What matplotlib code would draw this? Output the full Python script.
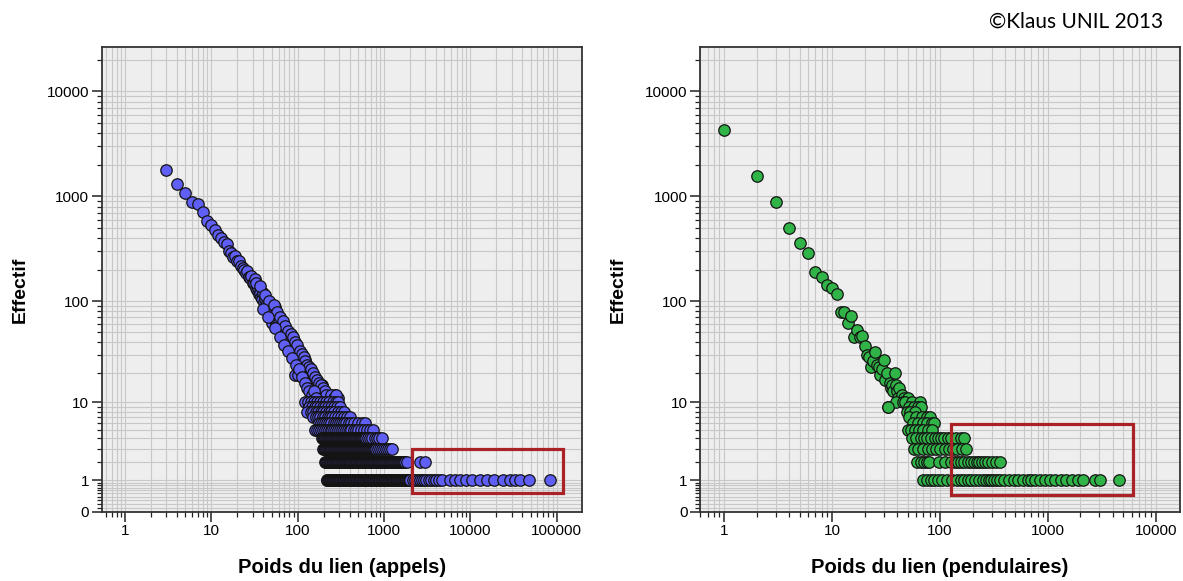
import numpy as np
import matplotlib
matplotlib.use("Agg")
import matplotlib.pyplot as plt
from matplotlib.patches import Rectangle
from matplotlib.ticker import FixedLocator, LogLocator, NullFormatter

plt.rcParams['font.family'] = ['Liberation Sans', 'DejaVu Sans']

# ---- appels (calls): upper part, one point per link weight
calls_top_w = [3, 4, 5, 6, 7, 8, 9, 10, 11, 12, 13, 14, 15, 16, 17, 18, 19, 20,
               21, 22, 23, 24, 25, 26, 27, 28, 29, 30, 31, 32, 33, 34, 35, 36, 37, 38, 39, 40,
               41, 42, 43, 44, 45, 46, 47, 48, 49, 50, 51, 52, 53, 54, 55, 56, 57, 58, 59, 60,
               61, 62, 63, 64, 65, 66, 67, 68, 69, 70, 71, 72, 73, 74, 75, 76, 77, 78, 79, 80,
               81, 82, 83, 84, 85, 86, 87, 88, 89, 90, 91, 92, 93, 94, 95, 96, 97, 98, 99, 100,
               102, 104, 106, 108, 110, 112, 114, 116, 118, 120, 122, 124, 126, 128, 130, 132,
               134, 136, 138, 140, 142, 145, 148, 150, 152, 155, 158, 160, 163, 166, 170, 173,
               176, 180, 185, 190, 195, 200, 210, 220, 237, 250, 270, 297]
calls_top_n = [1800, 1300, 1070, 890, 850, 710, 590, 540, 480, 430, 400, 370, 350, 300, 290, 265, 270, 240,
               243, 215, 210, 200, 185, 194, 170, 165, 174, 150, 150, 162, 135, 128, 135, 118, 121, 110, 106, 121,
               98, 104, 90, 95, 90, 84, 80, 86, 72, 62, 78, 84, 70, 66, 87, 64, 60, 62, 58, 63,
               55, 58, 52, 50, 65, 48, 52, 52, 45, 47, 50, 42, 44, 46, 40, 38, 44, 41, 36, 39,
               35, 42, 37, 33, 35, 31, 36, 30, 43, 32, 29, 34, 19, 30, 26, 33, 34, 27, 25, 29,
               19, 26, 24, 22, 27, 20, 23, 19, 25, 18, 27, 21, 17, 16, 22, 15,
               19, 17, 14, 20, 13, 16, 15, 12, 12, 17, 14, 11, 13, 15, 12, 11,
               14, 12, 11, 15, 11, 13, 12, 11, 12, 11, 12, 11]

# ---- appels: second layer of the thick band (30 < weight < 300)
calls_band_w = [33, 37, 42, 47, 53, 58, 63, 68, 72, 77, 83, 88, 94, 99, 105, 111, 117, 123,
                129, 135, 142, 150, 158, 166, 175, 185, 195, 205, 215, 240, 260, 280,
                40, 45, 55, 62, 70, 78, 86, 95, 103, 112, 120, 128, 136, 145, 155, 165]
calls_band_n = [150, 140, 115, 100, 92, 78, 70, 64, 57, 52, 48, 45, 40, 38, 33, 31, 29, 26,
                24, 23, 22, 20, 18, 17, 16, 15, 14, 13, 12, 12, 11, 12,
                85, 70, 55, 45, 38, 33, 28, 24, 22, 18, 16, 14, 13, 12, 13, 11]

# ---- appels: weights that share a small count
calls_n10 = [120, 131, 143, 155, 167, 180, 195, 212, 230, 255, 280, 297]
calls_n9 = [135, 146, 157, 169, 181, 194, 208, 224, 242, 262, 285, 310]
calls_n8 = [127, 143, 152, 162, 173, 185, 198, 212, 228, 245, 265, 290, 315, 345]
calls_n7 = [150, 162, 172, 183, 195, 208, 222, 237, 253, 270, 290, 315, 340, 370, 405]
calls_n6 = [175, 185, 195, 207, 219, 232, 246, 260, 275, 291, 308, 326, 345, 365, 390, 420,
            455, 500, 550, 605]
calls_n5 = [160, 168, 177, 186, 196, 206, 217, 228, 240, 252, 265, 279, 294, 309, 325, 342,
            360, 380, 400, 420, 445, 475, 505, 540, 590, 640, 690, 748]
calls_n4 = [190, 194, 198, 202, 206, 210, 215, 220, 224, 229, 233, 238, 243, 248, 253, 259,
            264, 270, 275, 281, 287, 293, 299, 305, 311, 318, 324, 331, 338, 345, 352, 360,
            367, 375, 382, 390, 398, 407, 415, 424, 432, 441, 450, 460, 470, 480, 490, 500,
            510, 522, 535, 548, 560, 575, 590, 605, 620, 650, 690, 730, 780, 830, 880, 940]
calls_n3 = [197, 201, 206, 210, 215, 220, 225, 230, 235, 240, 245, 250, 256, 262, 267, 273,
            279, 285, 291, 297, 304, 310, 317, 324, 331, 338, 346, 353, 361, 369, 377, 385,
            393, 402, 410, 419, 428, 437, 447, 457, 467, 477, 487, 497, 508, 519, 530, 541,
            553, 565, 577, 590, 602, 615, 628, 642, 655, 670, 684, 699, 714, 730, 745, 761,
            777, 811, 846, 890, 940, 990, 1050, 1110, 1170, 1240]
calls_n2 = [207, 211, 215, 219, 223, 227, 231, 236, 240, 245, 249, 254, 258, 263, 268, 273,
            278, 283, 288, 294, 299, 305, 310, 316, 322, 328, 334, 340, 346, 352, 359, 366,
            372, 379, 386, 394, 401, 408, 416, 424, 431, 439, 447, 456, 464, 472, 481, 490,
            499, 508, 518, 527, 537, 547, 557, 568, 578, 589, 600, 611, 622, 634, 645, 657,
            669, 682, 694, 707, 720, 733, 747, 761, 775, 790, 804, 819, 834, 850, 865, 881,
            897, 918, 940, 962, 985, 1008, 1030, 1055, 1080, 1105, 1130, 1160, 1190, 1220,
            1250, 1280, 1310, 1345, 1380, 1415, 1450, 1490, 1530, 1570, 1610, 1650, 1690,
            1750, 1850, 2630, 2990]
calls_n1 = [217, 220, 224, 227, 231, 234, 238, 242, 246, 250, 254, 258, 262, 266, 270, 275,
            279, 284, 288, 293, 297, 302, 306, 311, 316, 321, 326, 331, 337, 342, 348, 353,
            359, 364, 370, 376, 382, 388, 394, 400, 407, 413, 420, 426, 433, 440, 447, 454,
            461, 468, 476, 483, 491, 499, 507, 515, 523, 531, 540, 548, 557, 566, 575, 584,
            593, 602, 612, 622, 632, 642, 652, 662, 673, 683, 694, 705, 716, 727, 739, 751,
            763, 775, 787, 799, 812, 825, 838, 851, 865, 879, 893, 907, 921, 936, 951, 966,
            981, 996, 1012, 1028, 1045, 1061, 1078, 1095, 1113, 1130, 1148, 1166, 1185, 1204,
            1223, 1242, 1262, 1282, 1302, 1323, 1344, 1365, 1387, 1409, 1431, 1454, 1477,
            1500, 1524, 1548, 1573, 1598, 1623, 1649, 1675, 1702, 1729, 1756, 1784, 1812,
            1841, 1870, 1900, 1930, 1961, 1992, 2023, 2150, 2300, 2450, 2600, 2750, 2900,
            3100, 3300, 3500, 3750, 4000, 4300, 4680, 5830, 6700, 7620, 8800, 10400, 13000,
            15500, 19000, 24200, 28900, 33000, 38000, 48400, 84100]

# ---- pendulaires (commuters): upper part
comm_top_w = [1, 2, 3, 4, 5, 6, 7, 8, 9, 10, 11, 12, 13, 14, 15, 16, 17, 18, 19, 20,
              21, 22, 23, 24, 25, 26, 27, 28, 29, 30, 31, 32, 33, 34, 35, 36, 37, 38, 39, 40,
              41, 42]
comm_top_n = [4300, 1580, 880, 500, 360, 290, 190, 170, 142, 135, 116, 79, 78, 62, 72, 45, 53, 45, 46, 37,
              30, 29, 23, 26, 32, 24, 23, 19, 22, 27, 17, 20, 9, 16, 14, 15, 13, 20, 15, 13,
              11, 14]

# ---- pendulaires: weights that share a small count
comm_n12 = [44]
comm_n11 = [46, 50]
comm_n10 = [39, 45, 47, 55, 65]
comm_n9 = [33, 52, 57, 62, 66]
comm_n8 = [49, 53, 58]
comm_n7 = [51, 60, 68, 76, 80]
comm_n6 = [56, 62, 70, 76, 85, 88]
comm_n5 = [50, 54, 59, 64, 70, 77, 85]
comm_n4 = [55, 60, 66, 71, 76, 82, 89, 96, 102, 108, 118, 127, 140, 155, 167]
comm_n3 = [57, 63, 70, 77, 85, 92, 100, 112, 122, 132, 145, 161, 173]
comm_n2 = [61, 66, 71, 75, 79, 98, 112, 125, 137, 146, 155, 168, 181, 193, 205, 218, 230,
           245, 260, 280, 303, 330, 356]
comm_n1 = [69, 75, 82, 88, 96, 104, 117, 128, 143, 155, 168, 181, 195, 213, 230, 251, 266,
           282, 298, 315, 335, 356, 395, 434, 480, 530, 590, 648, 700, 754, 850, 940, 1037,
           1150, 1318, 1480, 1674, 1900, 2130, 2700, 3050, 4530]

# highlighted tails (red boxes): weight range, count range
calls_box = (2100, 119000, 0.5, 2.94)
comm_box = (126, 6100, 0.46, 5.89)


def stack(top_w, top_n, rows):
    w = list(top_w)
    n = list(top_n)
    for cnt, ws in rows:
        w += ws
        n += [cnt] * len(ws)
    return np.array(w, float), np.array(n, float)


calls_w, calls_n = stack(calls_top_w + calls_band_w, calls_top_n + calls_band_n,
                         [(10, calls_n10), (9, calls_n9), (8, calls_n8), (7, calls_n7),
                          (6, calls_n6), (5, calls_n5), (4, calls_n4), (3, calls_n3),
                          (2, calls_n2), (1, calls_n1)])
comm_w, comm_n = stack(comm_top_w, comm_top_n,
                       [(12, comm_n12), (11, comm_n11), (10, comm_n10), (9, comm_n9),
                        (8, comm_n8), (7, comm_n7), (6, comm_n6), (5, comm_n5),
                        (4, comm_n4), (3, comm_n3), (2, comm_n2), (1, comm_n1)])


def fwd(y):
    return np.log10(np.clip(np.asarray(y, float), -0.99, None) + 1)


def inv(t):
    return 10 ** np.asarray(t, float) - 1


y_major = [0, 1, 10, 100, 1000, 10000]
y_minor = [0.1, 0.2, 0.3, 0.4, 0.5, 0.6, 0.7, 0.8, 0.9]
for d in [1, 10, 100, 1000]:
    y_minor += [k * d for k in range(2, 10)]
y_minor += [20000]


def panel(ax, w, n, color, xlim, xticks, box, xlabel):
    ax.set_facecolor('#eeeeee')
    ax.set_xscale('log')
    ax.set_yscale('function', functions=(fwd, inv))
    ax.set_xlim(*xlim)
    ax.set_ylim(0, 26400)

    ax.set_xticks(xticks)
    ax.set_xticklabels([str(t) for t in xticks])
    ax.xaxis.set_minor_locator(LogLocator(base=10, subs=np.arange(2, 10), numticks=30))
    ax.xaxis.set_minor_formatter(NullFormatter())
    ax.yaxis.set_major_locator(FixedLocator(y_major))
    ax.set_yticklabels([str(t) for t in y_major])
    ax.yaxis.set_minor_locator(FixedLocator(y_minor))
    ax.yaxis.set_minor_formatter(NullFormatter())

    ax.grid(True, which='both', color='#c8c8c8', lw=0.8, zorder=0)
    ax.set_axisbelow(True)
    ax.tick_params(which='major', length=7, width=1.1, color='#222222',
                   labelsize=11, pad=2)
    ax.tick_params(which='minor', length=3.5, width=0.9, color='#222222')
    for s in ax.spines.values():
        s.set_color('#333333')
        s.set_linewidth(1.3)

    ax.scatter(w, n, s=68, c=color, edgecolors='#141414', linewidths=0.9, zorder=3)

    x0, x1, y0, y1 = box
    ax.add_patch(Rectangle((x0, y0), x1 - x0, y1 - y0, fill=False,
                           edgecolor='#ab2226', lw=2.3, zorder=4))

    ax.text(0.5, -0.1, xlabel, transform=ax.transAxes, ha='center', va='top',
            fontsize=14.5, fontweight='bold')
    ax.text(-0.17, 0.477, 'Effectif', transform=ax.transAxes, ha='center', va='center',
            rotation=90, fontsize=14, fontweight='bold')


fig = plt.figure(figsize=(11.83, 5.81), dpi=100)
ax1 = fig.add_axes([0.086, 0.119, 0.4057, 0.8])
ax2 = fig.add_axes([0.5917, 0.119, 0.4057, 0.8])

panel(ax1, calls_w, calls_n, '#5f5ff5', (0.537, 195000),
      [1, 10, 100, 1000, 10000, 100000], calls_box, 'Poids du lien (appels)')
panel(ax2, comm_w, comm_n, '#31b447', (0.596, 16700),
      [1, 10, 100, 1000, 10000], comm_box, 'Poids du lien (pendulaires)')

fig.text(1163 / 1183, 1 - 22 / 581, '©Klaus UNIL 2013', ha='right', va='center',
         family=['Lato', 'DejaVu Sans'], fontsize=15)

fig.savefig('out.png', dpi=100)
